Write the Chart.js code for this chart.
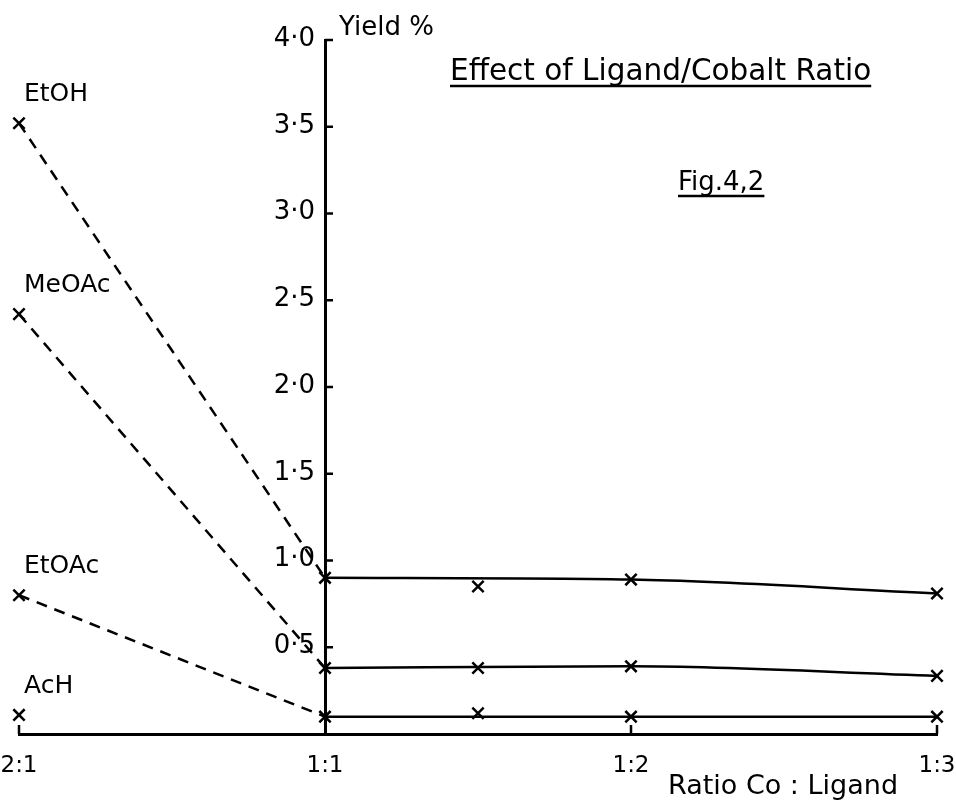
<!DOCTYPE html>
<html>
<head>
<meta charset="utf-8">
<script src="https://cdn.jsdelivr.net/npm/chart.js@4"></script>
<style>
  html, body { margin: 0; padding: 0; background: #fff; }
  #wrap { width: 956px; height: 806px; }
</style>
</head>
<body>
<div id="wrap"><canvas id="myChart" width="956" height="806"></canvas></div>
<script>
// Co : Ligand ratio positions (0 = 2:1, 1 = 1:1, 2 = 1:2, 3 = 1:3)
const ratioLabels = ['2:1', '1:1', '1:2', '1:3'];
const ratioX = [0, 1, 1.5, 2, 3];

// yield %
const etohYield  = [3.52, 0.90, 0.85, 0.89, 0.81];
const meoacYield = [2.42, 0.38, 0.38, 0.39, 0.335];
const etoacYield = [0.80, 0.10, 0.12, 0.10, 0.10];
const achYield   = [0.11];

// the hand-drawn solid curves go through these measured points (1:1, 1:2, 1:3)
const curveIdx = [1, 3, 4];

const seriesNames = ['EtOH', 'MeOAc', 'EtOAc', 'AcH'];
const yTicks = [0.5, 1.0, 1.5, 2.0, 2.5, 3.0, 3.5, 4.0];

const FONT = "'DejaVu Sans', sans-serif";

function pts(ys, idx) {
  return idx.map(i => ({x: ratioX[i], y: ys[i]}));
}

function marks(label, ys) {
  return {
    label: label,
    data: pts(ys, ys.map((_, i) => i)),
    showLine: false,
    pointStyle: 'crossRot',
    pointRadius: 8,
    pointBorderWidth: 2.5,
    pointBorderColor: '#000',
    borderColor: '#000',
    clip: false
  };
}

function dashed(label, ys) {
  return {
    label: label + ' dashed',
    data: pts(ys, [0, 1]),
    showLine: true,
    borderColor: '#000',
    borderWidth: 2.5,
    borderDash: [11, 8],
    pointRadius: 0,
    tension: 0,
    clip: false
  };
}

function curve(label, ys) {
  return {
    label: label + ' curve',
    data: pts(ys, curveIdx),
    showLine: true,
    borderColor: '#000',
    borderWidth: 2.5,
    pointRadius: 0,
    cubicInterpolationMode: 'monotone',
    clip: false
  };
}

const allSeries = [etohYield, meoacYield, etoacYield, achYield];

const datasets = [
  dashed('EtOH', etohYield), curve('EtOH', etohYield), marks('EtOH', etohYield),
  dashed('MeOAc', meoacYield), curve('MeOAc', meoacYield), marks('MeOAc', meoacYield),
  dashed('EtOAc', etoacYield), curve('EtOAc', etoacYield), marks('EtOAc', etoacYield),
  marks('AcH', achYield)
];

// y labels, titles and inward tick marks
const decor = {
  id: 'decor',
  afterDraw(chart) {
    const ctx = chart.ctx;
    const xs = chart.scales.x, ys = chart.scales.y;
    const axX = xs.getPixelForValue(1);
    ctx.save();
    ctx.strokeStyle = '#000';
    ctx.fillStyle = '#000';
    ctx.lineWidth = 2.5;

    // y ticks pointing into the plot, labels to the left of the axis
    ctx.font = '26px ' + FONT;
    ctx.textAlign = 'right';
    ctx.textBaseline = 'middle';
    yTicks.forEach(v => {
      const py = ys.getPixelForValue(v);
      ctx.beginPath(); ctx.moveTo(axX, py); ctx.lineTo(axX + 8, py); ctx.stroke();
      ctx.fillText(v.toFixed(1).replace('.', '·'), axX - 10, py - 1);
    });
    // inward ticks on x axis
    [0, 2, 3].forEach(v => {
      const px = xs.getPixelForValue(v);
      const py = ys.getPixelForValue(0);
      ctx.beginPath(); ctx.moveTo(px, py); ctx.lineTo(px, py - 9); ctx.stroke();
    });

    ctx.textBaseline = 'alphabetic';
    ctx.textAlign = 'left';

    // series names above their first point
    ctx.font = '25px ' + FONT;
    seriesNames.forEach((name, i) => {
      const px = xs.getPixelForValue(ratioX[0]);
      const py = ys.getPixelForValue(allSeries[i][0]);
      ctx.fillText(name, px + 5, py - 22);
    });

    // axis titles
    ctx.font = '26px ' + FONT;
    ctx.fillText('Yield %', axX + 14, ys.getPixelForValue(4) - 5);
    ctx.font = '27px ' + FONT;
    ctx.fillText('Ratio Co : Ligand', 668, chart.height - 12);

    // underlined title and figure number
    function underlined(text, x, y) {
      ctx.fillText(text, x, y);
      const w = ctx.measureText(text).width;
      ctx.beginPath(); ctx.moveTo(x, y + 6); ctx.lineTo(x + w, y + 6); ctx.stroke();
    }
    ctx.font = '29.5px ' + FONT;
    underlined('Effect of Ligand/Cobalt Ratio', 450, 80);
    ctx.font = '26px ' + FONT;
    underlined('Fig.4,2', 678, 190);
    ctx.restore();
  }
};

new Chart(document.getElementById('myChart'), {
  type: 'scatter',
  data: { datasets: datasets },
  options: {
    responsive: false,
    animation: false,
    layout: { padding: { left: 19, right: 19, top: 40, bottom: 0 } },
    plugins: {
      legend: { display: false },
      title: { display: false },
      tooltip: { enabled: false }
    },
    scales: {
      x: {
        type: 'linear',
        min: 0,
        max: 3,
        afterFit(scale) {
          scale.height = 72;
          scale.paddingLeft = 0;
          scale.paddingRight = 0;
        },
        grid: { display: false },
        border: { display: true, color: '#000', width: 3 },
        ticks: {
          stepSize: 1,
          padding: 10,
          color: '#000',
          font: { family: FONT, size: 23 },
          callback: v => ratioLabels[v] || ''
        }
      },
      y: {
        type: 'linear',
        position: { x: 1 },
        min: 0,
        max: 4,
        grid: { display: false },
        border: { display: true, color: '#000', width: 3 },
        ticks: { display: false, stepSize: 0.5 }
      }
    }
  },
  plugins: [decor]
});
</script>
</body>
</html>
